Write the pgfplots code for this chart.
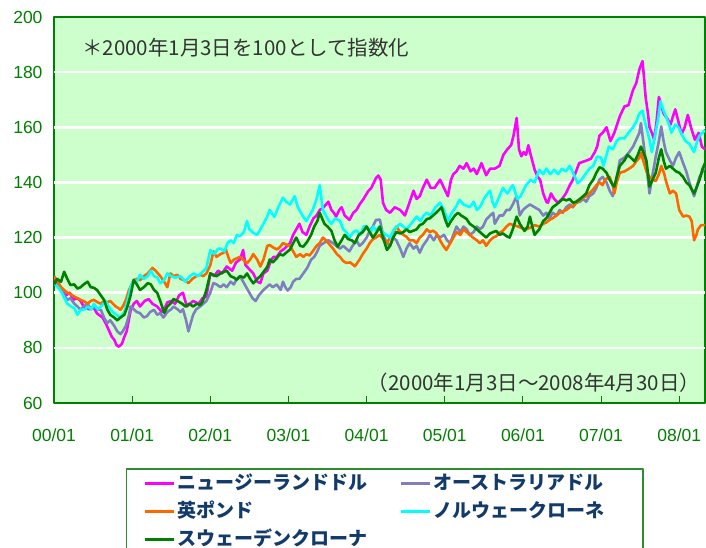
\documentclass[border=0pt]{standalone}
\usepackage{fontspec}
\setmainfont{Liberation Sans}
\newfontfamily\jp{Noto Sans CJK JP}
\usepackage{pgfplots}
\pgfplotsset{compat=1.18}
\definecolor{axgreen}{HTML}{008000}
\definecolor{leggreen}{HTML}{2E8B2E}
\definecolor{bggreen}{HTML}{CCFFCC}
\definecolor{nzd}{HTML}{FF00FF}
\definecolor{aud}{HTML}{7F7FBF}
\definecolor{gbp}{HTML}{FF6600}
\definecolor{nok}{HTML}{00FFFF}
\definecolor{sek}{HTML}{007F00}
\definecolor{legtext}{HTML}{123A6B}
\definecolor{notetext}{HTML}{333333}
\begin{document}
\begin{tikzpicture}
\begin{axis}[
  at={(54bp,145bp)}, anchor=south west,
  scale only axis, width=651bp, height=386bp,
  xmin=0, xmax=8.33, ymin=60, ymax=200,
  xtick={0,1,2,3,4,5,6,7,8},
  xticklabels={00/01,01/01,02/01,03/01,04/01,05/01,06/01,07/01,08/01},
  ytick={60,80,100,120,140,160,180,200},
  tick pos=left, tick align=inside,
  major tick length=7bp,
  tick style={axgreen, line width=1bp},
  axis line style={axgreen, line width=1.5bp},
  axis background/.style={fill=bggreen},
  ticklabel style={font=\fontsize{17.5bp}{20bp}\selectfont, text=axgreen},
  /pgf/number format/assume math mode=true,
  yticklabel style={xshift=-8bp},
  xticklabel style={yshift=-22.5bp},
  extra y ticks={80,100,120,140,160,180},
  extra y tick labels={},
  major grid style={white, line width=2.5bp},
  extra y tick style={grid=major, tick style={draw=none}},
  legend columns=2,
  legend cell align=left,
  legend image code/.code={\draw[#1, line width=3bp] (0bp,1bp) -- (29bp,1bp);},
  legend style={at={(0.1106,-0.1684)}, anchor=north west,
    draw=leggreen, line width=1.5bp, fill=white,
    inner xsep=17bp, inner ysep=4bp, row sep=5bp,
    font=\jp\bfseries\fontsize{19bp}{22bp}\selectfont, text=legtext,
    nodes={inner sep=2bp, text height=15bp, text depth=4bp, text width=190bp},
    /tikz/every even column/.append style={column sep=30bp}},
  line join=round,
]
\addplot[nzd, line width=2.6bp] coordinates {
(0,103)(0.05,104)(0.1,101)(0.15,99)(0.2,100)(0.25,97.5)(0.3,98)(0.34,97)(0.38,95)(0.45,94)(0.5,95)(0.55,92.5)(0.62,91)(0.66,89)(0.7,86.5)(0.74,84)(0.77,83)(0.8,81)(0.83,80.4)(0.87,81.5)(0.9,84)(0.93,86)(0.98,93.5)(1.02,96)(1.06,97)(1.1,95)(1.16,97)(1.21,97.7)(1.26,96)(1.32,95)(1.38,93)(1.41,94)(1.45,96.5)(1.5,97)(1.55,96)(1.6,99)(1.65,100)(1.7,95)(1.74,96)(1.78,97)(1.85,96)(1.9,98)(1.95,98.6)(2.0,107)(2.05,106)(2.1,108)(2.15,107)(2.21,109.5)(2.28,108)(2.33,111)(2.38,112)(2.42,115.5)(2.45,110)(2.5,108.5)(2.55,107)(2.6,104)(2.64,103.5)(2.68,107)(2.73,108)(2.78,112)(2.81,113)(2.85,113)(2.9,115)(2.95,116)(3.02,118)(3.06,121)(3.1,123)(3.14,125)(3.18,122)(3.23,121)(3.27,124)(3.32,127)(3.36,128)(3.40,130)(3.45,131)(3.51,133)(3.55,130)(3.58,129)(3.61,127.6)(3.65,130)(3.68,131)(3.72,128)(3.78,126.4)(3.83,129)(3.87,130)(3.91,132)(3.96,134)(4.02,136.8)(4.06,138)(4.12,141.6)(4.15,142.5)(4.18,141)(4.21,132.6)(4.25,130)(4.30,129)(4.36,131)(4.43,130)(4.49,128)(4.54,132)(4.60,137)(4.64,134)(4.68,135)(4.72,138)(4.77,141)(4.82,138)(4.87,138)(4.94,141)(4.99,138)(5.04,135)(5.08,141)(5.11,143)(5.15,144)(5.19,146)(5.24,145)(5.28,147)(5.33,144)(5.37,145)(5.41,143)(5.47,147)(5.53,142.6)(5.58,145)(5.64,145)(5.7,146)(5.75,150)(5.8,152)(5.85,153.6)(5.88,157)(5.92,163.4)(5.95,152)(5.98,149.5)(6.01,151)(6.04,150)(6.07,153.5)(6.1,150)(6.15,144.6)(6.19,142)(6.22,141)(6.26,136)(6.3,133)(6.32,132.6)(6.36,136)(6.4,134)(6.45,132.6)(6.5,134)(6.55,136)(6.6,139)(6.64,141)(6.68,144)(6.72,147)(6.77,147.5)(6.82,148)(6.87,148.6)(6.92,151)(6.95,153)(6.98,157)(7.02,158)(7.07,160)(7.12,155)(7.17,158)(7.24,164)(7.3,167.6)(7.35,168)(7.41,173.6)(7.45,176)(7.49,181)(7.53,184)(7.55,178)(7.57,171)(7.6,165)(7.62,160)(7.65,158)(7.68,155.5)(7.71,162)(7.74,171)(7.77,168)(7.8,165)(7.85,163)(7.89,161)(7.92,164)(7.95,166.5)(7.99,162)(8.03,157.5)(8.07,160)(8.11,164.5)(8.15,160)(8.2,155.5)(8.25,158)(8.29,153)(8.33,152)
};
\addlegendentry{ニュージーランドドル}
\addplot[aud, line width=2.6bp] coordinates {
(0,106)(0.04,104)(0.09,101.8)(0.13,99)(0.17,97.4)(0.21,98)(0.26,96)(0.3,95)(0.34,93.8)(0.38,95)(0.43,96)(0.47,94)(0.51,95)(0.56,94)(0.6,93.8)(0.64,91)(0.68,89)(0.72,90)(0.77,88)(0.81,86)(0.85,85)(0.88,86)(0.92,88)(0.96,92)(0.98,95)(1.02,94)(1.06,93)(1.1,92.6)(1.15,91)(1.19,91.5)(1.23,93)(1.28,93.8)(1.32,92)(1.36,92.6)(1.4,91)(1.45,93)(1.5,94)(1.53,95)(1.58,94)(1.62,93)(1.65,94)(1.69,90)(1.72,86)(1.75,89)(1.78,92)(1.82,94)(1.87,95)(1.91,96)(1.95,97)(2.0,100)(2.04,103.5)(2.08,103)(2.13,102)(2.17,103)(2.21,102)(2.26,104)(2.3,103)(2.34,105)(2.38,106)(2.42,104)(2.46,102)(2.5,100)(2.54,98)(2.58,97)(2.62,99)(2.68,101)(2.72,102)(2.76,103)(2.8,102)(2.85,103)(2.9,101)(2.93,104)(2.96,102)(2.99,100.8)(3.03,102)(3.06,104)(3.10,105)(3.14,105)(3.19,107)(3.24,109)(3.29,112)(3.33,113)(3.37,115)(3.40,117)(3.45,118)(3.51,119)(3.57,118)(3.61,117)(3.66,116)(3.7,117)(3.74,116)(3.78,115)(3.82,117)(3.87,119)(3.91,117)(3.95,118)(4.0,120)(4.04,122.4)(4.08,124)(4.12,126.4)(4.17,126.5)(4.21,121)(4.26,118)(4.3,117)(4.34,120)(4.38,119)(4.43,116)(4.47,113)(4.51,116)(4.55,118)(4.6,116)(4.64,117)(4.68,114.5)(4.72,117)(4.77,119)(4.81,121)(4.86,119)(4.9,121)(4.94,120)(4.99,121)(5.03,119)(5.07,118)(5.11,121)(5.15,124)(5.2,122)(5.24,124)(5.28,123)(5.32,121)(5.37,122)(5.41,124)(5.45,123)(5.49,124)(5.53,126.5)(5.58,128)(5.62,129)(5.64,125)(5.7,128)(5.745,128)(5.79,130)(5.83,130)(5.87,132)(5.92,135)(5.96,128)(6.0,130)(6.04,131)(6.09,132)(6.15,131)(6.21,130)(6.26,128)(6.3,129)(6.34,127)(6.38,129)(6.43,128)(6.47,130)(6.51,129)(6.555,131)(6.6,132)(6.64,131)(6.68,132.6)(6.73,133)(6.77,134)(6.81,133)(6.85,135)(6.9,136)(6.94,138)(6.98,141)(7.02,142)(7.07,140)(7.11,137)(7.15,135)(7.19,140)(7.24,148)(7.3,149)(7.36,151)(7.41,153)(7.45,155.5)(7.49,158)(7.51,161.5)(7.54,155)(7.58,146)(7.62,136)(7.66,143)(7.70,149.4)(7.74,155)(7.77,160.3)(7.8,155)(7.83,151)(7.88,148)(7.92,146)(7.96,149)(8.0,151)(8.05,147)(8.09,144)(8.13,140)(8.19,135)(8.22,138)(8.26,142)(8.3,144)(8.33,146)
};
\addlegendentry{オーストラリアドル}
\addplot[gbp, line width=2.6bp] coordinates {
(0,106)(0.04,104)(0.09,102)(0.13,101)(0.17,100)(0.21,99.5)(0.26,98.6)(0.3,98)(0.34,97.4)(0.38,97)(0.43,96)(0.47,97)(0.51,97.4)(0.56,96.5)(0.6,96)(0.64,97)(0.68,96.5)(0.72,97)(0.75,96.1)(0.79,95)(0.82,94.5)(0.85,93.8)(0.88,95)(0.92,97.4)(0.96,101)(1.02,104.6)(1.06,105)(1.1,104.5)(1.15,106)(1.2,107)(1.26,109)(1.3,108)(1.36,106)(1.41,104)(1.45,102)(1.49,107)(1.53,106)(1.58,106.5)(1.62,105)(1.67,104.5)(1.72,103.5)(1.77,105)(1.82,106)(1.87,106.5)(1.91,106)(1.95,107)(2.0,110)(2.04,115)(2.08,113)(2.13,114)(2.17,114.5)(2.2,115.6)(2.23,113)(2.26,110.8)(2.3,112)(2.34,112.5)(2.38,113)(2.42,112)(2.47,110.7)(2.51,112)(2.55,114)(2.6,112)(2.64,109.5)(2.68,112)(2.73,117)(2.76,117.3)(2.8,116.5)(2.85,115.7)(2.89,116.5)(2.93,118)(2.97,117.5)(3.02,117)(3.06,115)(3.10,113)(3.15,114)(3.19,113)(3.23,114)(3.27,113.5)(3.31,115)(3.36,117)(3.40,118)(3.44,120)(3.48,119)(3.51,118)(3.57,116)(3.62,114)(3.66,113)(3.7,111.5)(3.74,110.8)(3.79,111)(3.85,109.6)(3.91,112)(3.95,114)(4.0,116)(4.04,118)(4.08,119.4)(4.12,120)(4.17,121)(4.21,119.5)(4.26,118)(4.3,120)(4.34,122)(4.38,124)(4.43,122)(4.47,121)(4.51,120.3)(4.55,119)(4.6,119)(4.64,118)(4.68,120)(4.72,121)(4.77,123)(4.81,122)(4.85,122.5)(4.89,121.7)(4.94,119)(4.98,117)(5.02,115.5)(5.07,118)(5.11,120)(5.15,122)(5.2,121)(5.24,123)(5.28,122)(5.32,121)(5.36,120)(5.41,119)(5.45,118)(5.49,119)(5.53,117)(5.58,119)(5.62,120)(5.66,120.5)(5.7,121.7)(5.745,122.5)(5.79,124)(5.83,125)(5.88,124.5)(5.94,124)(5.98,123.5)(6.04,123)(6.09,123.5)(6.15,124.5)(6.21,124)(6.26,125)(6.3,125.5)(6.34,126.4)(6.38,127)(6.43,128)(6.47,129)(6.51,129.5)(6.555,130)(6.6,131)(6.64,131.5)(6.68,132.5)(6.73,133.7)(6.77,134.5)(6.81,135)(6.85,136)(6.9,137.5)(6.94,139)(6.98,140)(7.02,139)(7.05,141)(7.11,142)(7.15,139)(7.17,136)(7.2,140)(7.24,143.5)(7.3,144)(7.36,145)(7.41,146)(7.45,147.6)(7.49,149)(7.51,150.7)(7.56,146)(7.58,144)(7.62,142)(7.66,141)(7.70,140.5)(7.74,143)(7.77,146)(7.81,143)(7.83,140.5)(7.88,136)(7.92,137)(7.96,136)(8.0,130)(8.05,127.6)(8.09,128)(8.13,127.6)(8.16,126)(8.19,119)(8.22,121)(8.24,123)(8.28,124.5)(8.33,124.5)
};
\addlegendentry{英ポンド}
\addplot[nok, line width=2.6bp] coordinates {
(0,103.5)(0.05,102)(0.1,100)(0.17,96)(0.22,95)(0.26,94.4)(0.3,92)(0.34,93.8)(0.4,94)(0.43,95)(0.48,94)(0.51,96)(0.56,94)(0.6,95)(0.66,97)(0.7,95)(0.75,93)(0.8,92)(0.85,91)(0.9,93)(0.94,97)(0.98,102)(1.02,104.6)(1.06,104)(1.1,106.5)(1.15,105)(1.2,106)(1.24,108)(1.28,106)(1.32,105.6)(1.36,103.4)(1.41,104.6)(1.45,107)(1.5,106)(1.55,105.5)(1.62,106)(1.68,104)(1.74,106)(1.79,107)(1.84,106)(1.9,107.5)(1.95,109)(2.0,115.5)(2.05,114)(2.1,116)(2.13,116)(2.18,115)(2.22,118)(2.26,119)(2.3,118)(2.34,121)(2.38,120.5)(2.43,122)(2.47,126)(2.5,123)(2.55,121.7)(2.6,121)(2.64,123)(2.68,125)(2.73,127.7)(2.76,130)(2.82,127.5)(2.87,131)(2.93,134.5)(2.97,133)(3.02,132)(3.08,135)(3.12,131)(3.16,129)(3.19,127.5)(3.23,126)(3.27,128)(3.31,130)(3.36,134)(3.40,139)(3.44,130)(3.48,128)(3.52,126)(3.55,125)(3.6,127)(3.66,126)(3.7,123)(3.74,122)(3.78,120)(3.83,122)(3.87,122.6)(3.92,121)(3.96,124)(4.0,124)(4.05,122)(4.09,124)(4.12,122.6)(4.17,124)(4.2,122)(4.25,121)(4.30,120)(4.35,123)(4.43,125)(4.47,124)(4.51,123)(4.57,125)(4.64,127.6)(4.69,126)(4.73,128)(4.77,129)(4.82,128)(4.88,131)(4.94,132.6)(4.99,130)(5.04,126)(5.09,129)(5.14,131)(5.19,133.7)(5.24,132)(5.32,131)(5.37,133)(5.41,130)(5.45,131)(5.5,134)(5.55,136)(5.58,137)(5.61,133)(5.64,131)(5.7,135)(5.745,138)(5.8,136)(5.87,139)(5.93,134)(5.97,135)(6.04,139)(6.1,141)(6.15,140)(6.21,144.6)(6.26,143)(6.3,145)(6.35,143)(6.4,144.6)(6.45,143)(6.5,145)(6.55,144)(6.6,146)(6.65,143)(6.7,139.7)(6.75,141)(6.8,143)(6.85,145)(6.9,146)(6.95,149.4)(7.0,149)(7.03,146)(7.07,150)(7.1,153)(7.15,152)(7.2,155)(7.24,156)(7.3,156)(7.35,158)(7.41,160)(7.45,162)(7.49,165)(7.53,166)(7.57,161)(7.62,155.5)(7.65,151)(7.69,157)(7.73,163)(7.76,169.4)(7.8,166)(7.83,164)(7.87,161)(7.9,158)(7.95,161)(7.99,160)(8.04,157)(8.08,155)(8.13,154)(8.19,151)(8.23,155)(8.26,157)(8.3,158)(8.33,159)
};
\addlegendentry{ノルウェークローネ}
\addplot[sek, line width=2.6bp] coordinates {
(0,103)(0.04,105)(0.09,104)(0.13,107.6)(0.17,105)(0.21,102.8)(0.26,103)(0.3,101.5)(0.34,102)(0.38,103)(0.43,104)(0.47,102)(0.51,101.8)(0.55,101)(0.6,99)(0.64,97.4)(0.68,94)(0.72,92)(0.77,91)(0.81,90)(0.85,91)(0.9,92)(0.94,95)(0.98,99)(1.02,104.6)(1.06,103)(1.1,101)(1.15,102)(1.2,103.5)(1.24,103)(1.28,101)(1.32,100)(1.36,97)(1.41,92.7)(1.45,95)(1.49,96)(1.53,97.7)(1.58,97)(1.64,96)(1.68,95)(1.73,96)(1.78,95)(1.83,96)(1.87,95.5)(1.9,96.7)(1.95,101)(2.0,107)(2.04,106.5)(2.08,106)(2.13,107)(2.17,107.5)(2.21,108)(2.26,106)(2.3,105.5)(2.34,104.7)(2.38,106)(2.43,105.5)(2.47,107)(2.51,105)(2.55,103.4)(2.6,105)(2.64,106)(2.68,107.5)(2.73,109.4)(2.76,112)(2.8,111)(2.85,112.5)(2.89,114)(2.93,113.5)(2.97,114.5)(3.02,115.7)(3.06,118)(3.10,120)(3.15,117)(3.19,116.7)(3.24,118.5)(3.29,121)(3.33,124)(3.37,126)(3.40,129)(3.43,127)(3.46,125)(3.5,124)(3.55,122.4)(3.59,119)(3.63,116.7)(3.68,119)(3.72,121)(3.76,119.5)(3.81,119)(3.85,118)(3.9,121)(3.95,122)(4.0,124)(4.04,122)(4.08,120)(4.12,121.5)(4.17,124)(4.21,120)(4.26,115.5)(4.3,117)(4.34,120)(4.38,122)(4.43,121.5)(4.47,122)(4.51,123)(4.55,122)(4.6,122.5)(4.64,123)(4.68,124.5)(4.72,125)(4.77,126.7)(4.81,127)(4.85,128)(4.89,129)(4.96,131)(5.0,127)(5.04,124)(5.08,126)(5.13,128)(5.17,129)(5.21,128)(5.24,127.5)(5.28,126.7)(5.32,125)(5.37,124)(5.41,123)(5.45,122)(5.49,121)(5.53,120)(5.58,121.5)(5.62,122)(5.66,122.4)(5.7,121)(5.745,121.5)(5.79,120.5)(5.83,120)(5.87,123)(5.92,127.6)(5.96,125)(6.02,122.4)(6.06,124)(6.09,127.6)(6.12,124)(6.15,121)(6.21,123)(6.26,126)(6.3,127)(6.34,129)(6.38,131)(6.43,132)(6.47,133)(6.51,134)(6.555,133.5)(6.6,134)(6.64,132.6)(6.68,133)(6.73,134)(6.77,135)(6.81,136)(6.85,139)(6.9,141)(6.94,143.5)(6.98,145.5)(7.02,145)(7.07,143.5)(7.11,141)(7.15,139)(7.17,138.5)(7.2,142)(7.24,146)(7.3,148)(7.34,150)(7.38,149)(7.43,147.6)(7.47,150)(7.51,153)(7.54,151)(7.58,148)(7.62,138.5)(7.66,141)(7.70,143.5)(7.74,149)(7.77,152)(7.8,148)(7.83,145)(7.88,146)(7.92,145)(7.96,144)(8.0,143.5)(8.05,142)(8.09,140)(8.13,139)(8.19,136)(8.22,138)(8.26,141)(8.3,145)(8.33,147)
};
\addlegendentry{スウェーデンクローナ}
\node[anchor=west, font=\jp\fontsize{20.5bp}{24bp}\selectfont, text=notetext, inner sep=0pt] at (axis description cs:0.043,0.9197) {＊2000年1月3日を100として指数化};
\node[anchor=east, font=\jp\fontsize{20.5bp}{24bp}\selectfont, text=notetext, inner sep=0pt] at (axis description cs:0.993,0.0518) {（2000年1月3日～2008年4月30日）};
\end{axis}
\pgfresetboundingbox
\path[use as bounding box] (0bp,0bp) rectangle (706bp,548bp);
\end{tikzpicture}
\end{document}
